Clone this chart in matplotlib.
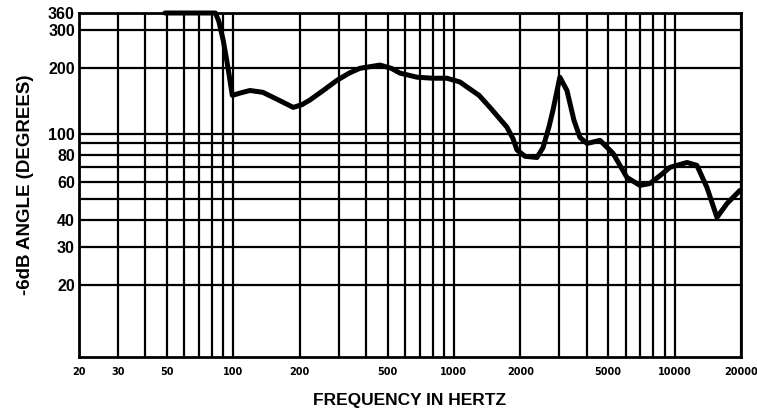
import matplotlib.pyplot as plt
import numpy as np

# frequency response of the -6dB angle
freq = [49, 83, 86, 90, 94, 99, 108, 119, 136, 160, 187, 205, 223, 260, 295, 335, 375, 462,
        520, 570, 680, 800, 930, 1064, 1146, 1300, 1456, 1738, 1850, 1930, 2100, 2378, 2532,
        2700, 2810, 3020, 3252, 3500, 3724, 4008, 4590, 5260, 6080, 6970, 7730, 8600, 9530,
        11380, 12620, 14020, 15560, 17270, 19770]
angle = [360, 360, 330, 270, 210, 150, 154, 158, 155, 143, 132, 136, 143, 160, 176, 190, 200, 207,
         200, 190, 182, 180, 180, 173, 164, 150, 132, 107, 95, 84, 78.5, 77.5, 86,
         108, 128, 182, 158, 115, 96, 90, 93, 81, 62.7, 57.6, 58.8, 64, 69.8,
         73.5, 71.3, 56.3, 41, 47.5, 54.6]

x_ticks = [20, 30, 50, 100, 200, 500, 1000, 2000, 5000, 10000, 20000]
y_ticks = [20, 30, 40, 60, 80, 100, 200, 300, 360]

fig = plt.figure(figsize=(7.57, 4.13), dpi=100)
ax = fig.add_axes([0.1044, 0.1356, 0.8745, 0.8329])
ax.set_xscale('log')
ax.set_yscale('log')
ax.set_xlim(20, 20000)
ax.set_ylim(9.3, 360)

# full log grid, drawn by hand in the original
vlines = [m * 10**d for d in range(1, 5) for m in range(1, 10) if 20 <= m * 10**d <= 20000]
hlines = [20, 30, 40, 50, 60, 70, 80, 90, 100, 200, 300]
for v in vlines:
    ax.axvline(v, color='black', lw=1.6, zorder=1)
for h in hlines:
    ax.axhline(h, color='black', lw=1.6, zorder=1)

ax.plot(freq, angle, color='black', lw=3.6, solid_joinstyle='round', solid_capstyle='round',
        zorder=3, clip_on=False)

ax.set_xticks(x_ticks)
ax.set_xticklabels([str(t) for t in x_ticks], fontsize=7, fontweight='bold', family='Liberation Sans Narrow')
ax.set_yticks(y_ticks)
ax.set_yticklabels([str(t) for t in y_ticks], fontsize=11.5, fontweight='bold', family='Liberation Sans')
ax.minorticks_off()
ax.tick_params(length=0)
ax.tick_params(axis='x', pad=7)
ax.tick_params(axis='y', pad=3)
for s in ax.spines.values():
    s.set_linewidth(2)

ax.set_xlabel('FREQUENCY IN HERTZ', fontsize=12.5, fontweight='bold', family='Liberation Sans', labelpad=12)
ax.set_ylabel('-6dB ANGLE (DEGREES)', fontsize=13.5, fontweight='bold', family='Liberation Sans', labelpad=10)

fig.savefig('out.png', dpi=100)
